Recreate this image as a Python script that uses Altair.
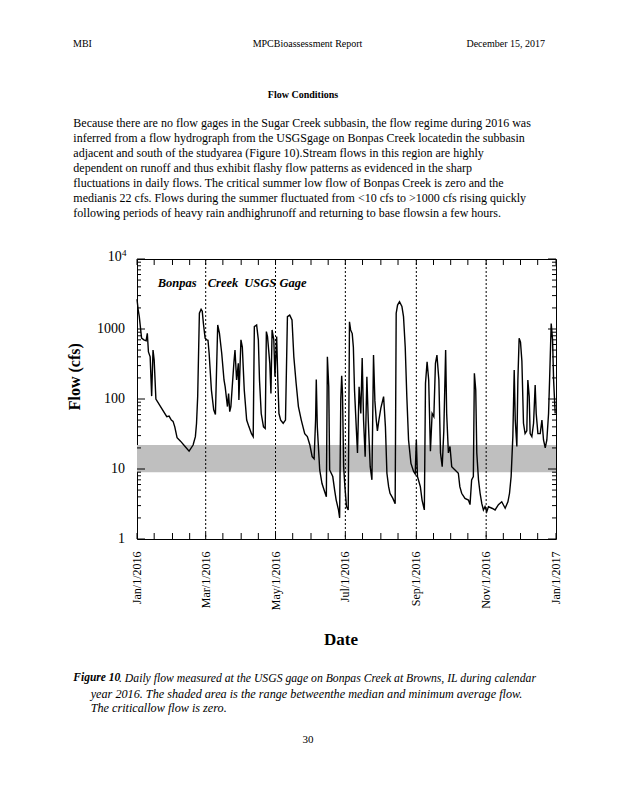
import altair as alt
import pandas as pd

SERIF = "Liberation Serif"

days = [0, 1, 2, 4, 6, 8, 9, 10, 11.5, 12.8, 14, 15, 16.5, 26, 28, 30, 31.5, 33, 35, 38,
        42, 45.5, 49, 51, 52, 53, 54.5, 56, 57, 58, 59.5, 61, 62, 63, 65, 67, 68.5, 70.5, 72, 74,
        76, 77, 79, 80, 81, 82, 84.7, 85.6, 87, 88.5, 89, 90.8, 92, 93.7, 95.8, 97.8, 100, 101.5, 102.5, 104.5,
        106, 107, 108.5, 110.5, 112, 113, 114, 116, 117, 118, 119.5, 120.5, 122, 123, 124, 125.5, 127.7, 129.7, 131.4, 133.4,
        135.4, 137, 139, 141, 143.5, 146.5, 148.8, 151, 153, 154.7, 156, 156.6, 157.5, 159.6, 161.6, 164, 165.4, 166.3, 167.5, 168.3,
        171, 172.7, 174, 176, 177, 178, 178.8, 179.5, 180.5, 181.6, 183, 184.5, 185.6, 186.6, 188, 189, 190, 191.5, 192.6, 194,
        195.5, 196.7, 197.9, 199.3, 200.8, 202, 203.7, 205.2, 206.6, 207.8, 209, 210, 211.3, 213, 215.4, 217, 218.3, 219.8, 221, 223.5,
        225.5, 226.4, 227.6, 229.3, 231.4, 232.8, 234.3, 235.7, 237.2, 239.3, 241.6, 243, 244, 245, 247.5, 249, 251, 252, 253.4, 254.8,
        256.3, 257.8, 259.3, 260.7, 262, 263.7, 265.1, 266.6, 268, 269.6, 270.5, 272, 273.4, 274.9, 277.8, 280.7, 282, 283.6, 286.5, 289.5,
        290.9, 292.3, 293.8, 294.7, 295.9, 296.8, 298.3, 299.7, 301.2, 302.6, 304, 305.5, 307, 310, 312.8, 315.7, 318.6, 321.6, 324, 325.4,
        326.8, 328.3, 329.5, 330.4, 331.8, 332.7, 333.8, 335, 336.2, 337.6, 339, 340.5, 341.4, 342.6, 343.4, 344.9, 346.4, 347.8, 348.7, 350.2,
        352.2, 353.7, 355.1, 356.6, 358, 359.5, 360.4, 361.8, 363, 363.9, 365.3]
flows = [2660, 1900, 1500, 740, 700, 680, 870, 470, 400, 110, 500, 360, 100, 56, 57, 50, 48, 40, 28, 25,
         21, 18, 22, 29, 45, 108, 1680, 1910, 1800, 1200, 740, 700, 690, 450, 134, 70, 60, 1140, 870, 450,
         187, 150, 78, 120, 66, 78, 340, 500, 187, 323, 97, 700, 550, 134, 50, 40, 32, 29, 1080, 1140,
         700, 187, 62, 40, 38, 920, 780, 323, 120, 970, 700, 208, 780, 187, 62, 50, 45, 50, 1500, 1580,
         1350, 400, 168, 78, 50, 32, 29, 22, 15, 14, 50, 190, 40, 9.7, 6.2, 4.7, 4.0, 400, 150, 9.7,
         7.8, 4.9, 3.6, 2.6, 2.0, 100, 215, 120, 10.8, 5.6, 2.9, 2.6, 1270, 970, 860, 550, 134, 40, 17, 150,
         62, 385, 50, 15, 208, 50, 10.8, 7.0, 425, 94, 50, 35, 50, 74, 108, 40, 8.7, 5.6, 4.5, 3.8,
         3.2, 1680, 2200, 2450, 2100, 1500, 550, 108, 26, 12, 9.2, 8.5, 26, 7.8, 5.6, 3.6, 2.6, 168, 340, 187,
         18, 62, 56, 323, 425, 187, 17, 10.8, 35, 500, 62, 17, 21, 10.8, 9.7, 8.7, 5.6, 4.5, 3.8, 3.6,
         3.1, 7.0, 7.8, 233, 134, 17, 7.0, 4.5, 3.2, 2.6, 2.9, 2.45, 2.9, 2.75, 2.6, 3.1, 3.4, 2.75, 3.4, 4.5,
         7.8, 29, 260, 50, 21, 187, 740, 650, 350, 45, 32, 35, 187, 108, 32, 29, 45, 158, 62, 32,
         32, 50, 26, 20, 26, 62, 187, 1200, 700, 187, 62]
assert len(days) == len(flows)

# shaded range between minimum average flow and median flow
band_min = [9]
band_median = [22]
band_start = [0]
band_end = [366]

# dotted month separators, tick positions (day of year) and tick labels
month_lines = [60, 121, 182, 244, 305]
label_days = [0, 60, 121, 182, 244, 305, 366]
label_texts = ["Jan/1/2016", "Mar/1/2016", "May/1/2016", "Jul/1/2016",
               "Sep/1/2016", "Nov/1/2016", "Jan/1/2017"]
x_tick_days = [0, 15, 31, 46, 60, 75, 91, 106, 121, 136, 152, 167, 182, 197, 213,
               228, 244, 259, 274, 289, 305, 320, 335, 350, 366]
y_label_values = [1, 10, 100, 1000]
y_label_texts = ["1", "10", "100", "1000"]
y_major = [1, 10, 100, 1000, 10000]
y_minor = [2, 3, 4, 5, 6, 7, 8, 9, 20, 30, 40, 50, 60, 70, 80, 90,
           200, 300, 400, 500, 600, 700, 800, 900, 2000, 3000, 4000, 5000, 6000, 7000, 8000, 9000]

W, H = 419, 280

xscale = alt.Scale(domain=[0, 366], nice=False, zero=False)
yscale = alt.Scale(type="log", domain=[1, 10000], nice=False)

df = pd.DataFrame({"day": days, "flow": flows})

band = alt.Chart(pd.DataFrame({"s": band_start, "e": band_end, "lo": band_min, "hi": band_median})).mark_rect(
    color="#bfbfbf").encode(
    x=alt.X("s:Q", scale=xscale, axis=None), x2="e:Q",
    y=alt.Y("lo:Q", scale=yscale, axis=None), y2="hi:Q")

dotted = alt.Chart(pd.DataFrame({"d": month_lines})).mark_rule(
    color="black", strokeWidth=1, strokeDash=[2, 2]).encode(
    x=alt.X("d:Q", scale=xscale, axis=None))

line = alt.Chart(df).mark_line(color="black", strokeWidth=1.4).encode(
    x=alt.X("day:Q", scale=xscale, axis=None),
    y=alt.Y("flow:Q", scale=yscale, axis=None))

xt = pd.DataFrame({"d": x_tick_days})
xticks_bottom = alt.Chart(xt).mark_rule(color="black").encode(
    x=alt.X("d:Q", scale=xscale, axis=None), y=alt.value(H), y2=alt.value(H - 6))
xticks_top = alt.Chart(xt).mark_rule(color="black").encode(
    x=alt.X("d:Q", scale=xscale, axis=None), y=alt.value(0), y2=alt.value(6))

ymaj = pd.DataFrame({"v": y_major})
ymin = pd.DataFrame({"v": y_minor})


def yticks(data, x0, x1):
    return alt.Chart(data).mark_rule(color="black").encode(
        y=alt.Y("v:Q", scale=yscale, axis=None), x=alt.value(x0), x2=alt.value(x1))


tick_layers = [yticks(ymaj, 0, 8), yticks(ymin, 0, 4), yticks(ymaj, W, W - 8), yticks(ymin, W, W - 4)]

# axis tick labels, placed through the scales
xlabels = alt.Chart(pd.DataFrame({"d": label_days, "t": label_texts})).mark_text(
    font=SERIF, fontSize=12, angle=270, align="right", baseline="middle", color="black").encode(
    x=alt.X("d:Q", scale=xscale, axis=None), y=alt.value(H + 12.5), text="t:N")
ylabels = alt.Chart(pd.DataFrame({"v": y_label_values, "t": y_label_texts})).mark_text(
    font=SERIF, fontSize=14, align="right", baseline="middle", color="black").encode(
    y=alt.Y("v:Q", scale=yscale, axis=None), x=alt.value(-12), text="t:N")


def txt(s, x, y, size=11, weight="normal", style="normal", align="left", angle=0, baseline="middle"):
    return alt.Chart(pd.DataFrame({"t": [s]})).mark_text(
        font=SERIF, fontSize=size, fontWeight=weight, fontStyle=style, align=align,
        baseline=baseline, angle=angle, color="black").encode(
        x=alt.value(x), y=alt.value(y), text="t:N")


# page texts, positioned relative to the plot area's top-left corner
para = [
    "Because there are no flow gages in the Sugar Creek subbasin, the flow regime during 2016 was",
    "inferred from a flow hydrograph from the USGSgage on Bonpas Creek locatedin the subbasin",
    "adjacent and south of the studyarea (Figure 10).Stream flows in this region are highly",
    "dependent on runoff and thus exhibit flashy flow patterns as evidenced in the sharp",
    "fluctuations in daily flows. The critical summer low flow of Bonpas Creek is zero and the",
    "medianis 22 cfs. Flows during the summer fluctuated from <10 cfs to >1000 cfs rising quickly",
    "following periods of heavy rain andhighrunoff and returning to base flowsin a few hours.",
]
texts = [
    txt("MBI", -64, -215.5, size=10),
    txt("MPCBioassessment Report", 170.5, -215.5, size=10, align="center"),
    txt("December 15, 2017", 408, -215.5, size=10, align="right"),
    txt("Flow Conditions", 166, -164, size=10, weight="bold", align="center"),
]
for i, line_text in enumerate(para):
    texts.append(txt(line_text, -63.7, -135.7 + 14.9 * i, size=12))

texts += [
    txt("Bonpas", 20.7, 24.3, size=12.5, weight="bold", style="italic"),
    txt("Creek", 70.7, 24.3, size=12.5, weight="bold", style="italic"),
    txt("USGS Gage", 107.3, 24.3, size=12.5, weight="bold", style="italic"),
    txt("10", -15.3, -2.3, size=14, align="right"),
    txt("4", -15, -6.5, size=9),
    txt("Flow (cfs)", -62, 117.7, size=16, weight="bold", align="center", angle=270),
    txt("Date", 204, 381, size=17, weight="bold", align="center"),
    txt("Figure 10", -63.7, 419.3, size=11.5, weight="bold", style="italic"),
    txt(". Daily flow measured at the USGS gage on Bonpas Creek at Browns, IL during calendar",
        -18, 419.3, size=11.7, style="italic"),
    txt("year 2016. The shaded area is the range betweenthe median and minimum average flow.",
        -46.3, 435, size=12.2, style="italic"),
    txt("The criticallow flow is zero.", -46.3, 449.3, size=12.2, style="italic"),
    txt("30", 171, 481, size=11, align="center"),
]

chart = alt.layer(band, dotted, line, xticks_bottom, xticks_top, *tick_layers,
                  xlabels, ylabels, *texts).properties(
    width=W, height=H,
    padding={"left": 129, "top": 251, "right": 54, "bottom": 250},
    autosize="none",
    background="white",
).configure_view(stroke="black", strokeWidth=1)

chart.save("out.html", embed_options={"renderer": "svg", "actions": False})
